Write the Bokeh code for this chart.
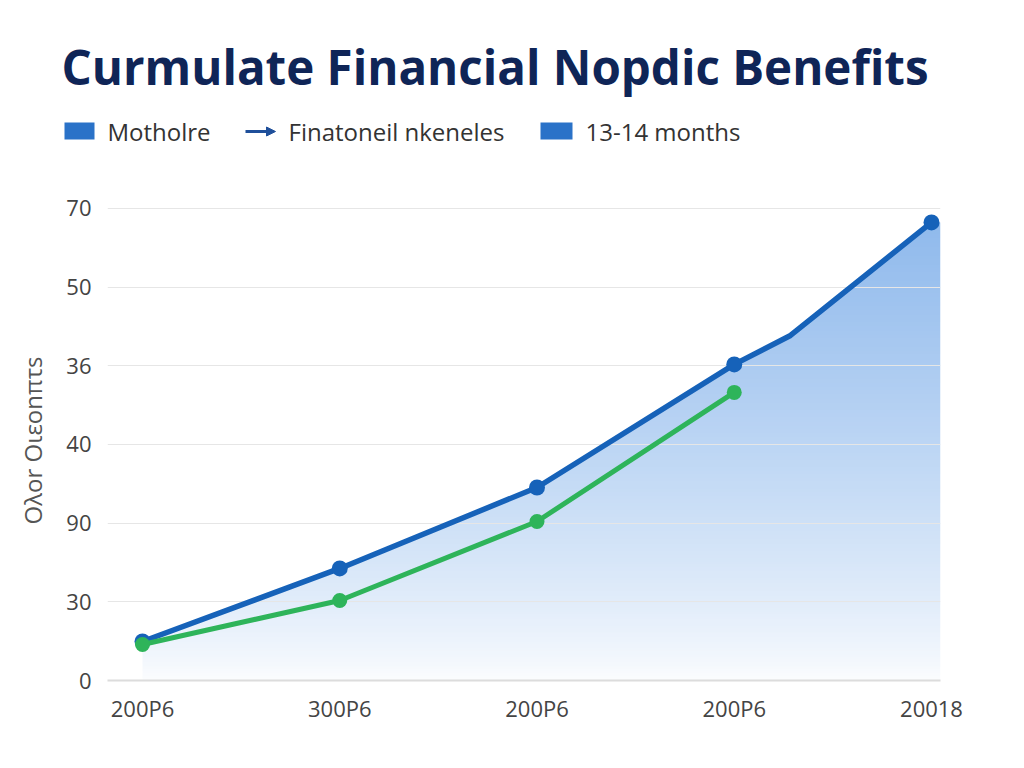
import numpy as np
from bokeh.plotting import figure
from bokeh.layouts import column
from bokeh.models import Range1d, FixedTicker, Arrow, NormalHead
from bokeh.core.properties import value
from bokeh.embed import file_html
from bokeh.resources import INLINE

# ---------------- data ----------------
title_text = "Curmulate Financial Nopdic Benefits"
legend_labels = ["Motholre", "Finatoneil nkeneles", "13-14 months"]
y_axis_label = "Oλor Oιεonπτs"

x_tick_labels = ["200P6", "300P6", "200P6", "200P6", "20018"]
y_tick_labels = ["0", "30", "90", "40", "36", "50", "70"]

blue_x = [0, 1, 2, 3, 3.285, 4]
blue_y = [0.496, 1.424, 2.453, 4.017, 4.385, 5.822]
blue_marker_idx = [0, 1, 2, 3, 5]

green_x = [0, 1, 2, 3]
green_y = [0.458, 1.017, 2.021, 3.661]

# ---------------- style ----------------
FONT = "Open Sans"
BLUE = "#1662b9"
GREEN = "#2eb45a"
NAVY = "#0f2557"
LEG_BLUE = "#2a72c8"
W = 1024
HEADER_H = 175

# ---------------- header (title + legend) ----------------
header = figure(width=W, height=HEADER_H, x_range=Range1d(0, W), y_range=Range1d(HEADER_H, 0),
                output_backend="svg", toolbar_location=None, min_border=0)
header.axis.visible = False
header.grid.visible = False
header.outline_line_color = None

header.text(x=[61], y=[66], text=[title_text], text_font=value(FONT), text_font_style="bold",
            text_font_size="47.5px", text_color=NAVY, text_baseline="middle", text_align="left")

header.quad(left=[64, 540], right=[94, 572], top=[122, 122], bottom=[139, 139],
            fill_color=LEG_BLUE, line_color=None)
header.add_layout(Arrow(end=NormalHead(size=9, fill_color="#1f4f9a", line_color="#1f4f9a"),
                        x_start=245, y_start=131, x_end=275, y_end=131,
                        line_width=3, line_color="#1f4f9a"))
header.text(x=[107, 288, 585], y=[131, 131, 131], text=legend_labels, text_font=value(FONT),
            text_font_size="24px", text_color="#333333", text_baseline="middle", text_align="left")

# ---------------- main plot ----------------
x_start = -35 / 197.25
x_end = x_start + 833 / 197.25
y_top = 6.1

p = figure(width=W, height=768 - HEADER_H, x_range=Range1d(x_start, x_end), y_range=Range1d(0, y_top),
           output_backend="svg", toolbar_location=None,
           min_border_left=107, min_border_right=W - 940, min_border_top=25,
           min_border_bottom=768 - HEADER_H - 25 - 480)
p.outline_line_color = None
p.xgrid.visible = False
p.ygrid.grid_line_color = "#e6e6e6"
p.ygrid.grid_line_width = 1

for fig in (header, p):
    if hasattr(fig, "frame_align"):
        fig.frame_align = False

# gradient fill under the blue line
fill_top = max(blue_y)
n = 256
ys = np.linspace(0, 1, n)
alpha = 0.52 * ys ** 0.8 + 0.02
img = np.zeros((n, 2), dtype=np.uint32)
view = img.view(dtype=np.uint8).reshape((n, 2, 4))
view[:, :, 0] = 48
view[:, :, 1] = 126
view[:, :, 2] = 220
view[:, :, 3] = (np.clip(alpha, 0, 1) * 255).astype(np.uint8)[:, None]
p.image_rgba(image=[img], x=0, y=0, dw=x_end, dh=fill_top, level="image")

mask_x = [x_start - 0.1] + blue_x + [x_end + 0.05]
mask_y = [blue_y[0]] + blue_y + [blue_y[-1]]
p.varea(x=mask_x, y1=mask_y, y2=[y_top + 1] * len(mask_x), fill_color="white", level="image")

p.line(blue_x, blue_y, line_color=BLUE, line_width=5.5, line_join="round", line_cap="round")
p.scatter([blue_x[i] for i in blue_marker_idx], [blue_y[i] for i in blue_marker_idx],
          size=16, fill_color=BLUE, line_color=None)
p.line(green_x, green_y, line_color=GREEN, line_width=5, line_join="round", line_cap="round")
p.scatter(green_x, green_y, size=15, fill_color=GREEN, line_color=None)

# axes
p.yaxis.ticker = FixedTicker(ticks=list(range(len(y_tick_labels))))
p.yaxis.major_label_overrides = {i: t for i, t in enumerate(y_tick_labels)}
p.xaxis.ticker = FixedTicker(ticks=list(range(len(x_tick_labels))))
p.xaxis.major_label_overrides = {i: t for i, t in enumerate(x_tick_labels)}

for ax in (p.xaxis[0], p.yaxis[0]):
    ax.major_tick_line_color = None
    ax.minor_tick_line_color = None
    ax.major_tick_out = 0
    ax.major_tick_in = 0
    ax.minor_tick_out = 0
    ax.minor_tick_in = 0
    ax.major_label_text_font = FONT
    ax.major_label_text_font_size = "22px"
    ax.major_label_text_color = "#444444"

p.yaxis.axis_line_color = None
p.yaxis.major_label_standoff = 16
p.yaxis.axis_label = y_axis_label
p.yaxis.axis_label_text_font = FONT
p.yaxis.axis_label_text_font_style = "normal"
p.yaxis.axis_label_text_font_size = "24px"
p.yaxis.axis_label_text_color = "#555555"
p.yaxis.axis_label_standoff = 14

p.xaxis.axis_line_color = "#dcdcdc"
p.xaxis.axis_line_width = 2
p.xaxis.major_label_standoff = 12

layout = column(header, p)
open("out.html", "w").write(file_html(layout, INLINE))
